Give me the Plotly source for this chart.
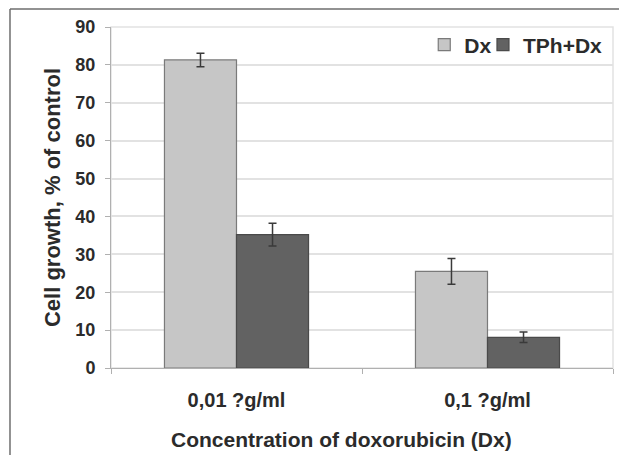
import plotly.graph_objects as go

categories = ["0,01 ?g/ml", "0,1 ?g/ml"]
dx_values = [81.3, 25.5]
dx_errors = [1.8, 3.4]
tph_values = [35.2, 8.1]
tph_errors = [3.0, 1.4]
y_ticks = [0, 10, 20, 30, 40, 50, 60, 70, 80, 90]

FONT = "Liberation Sans, Arial, sans-serif"
TXT = "#2b2b2b"

fig = go.Figure()
fig.add_trace(go.Bar(
    name="Dx", x=categories, y=dx_values, legend="legend",
    marker=dict(color="#c6c6c6", line=dict(color="#7a7a7a", width=1.2)),
    error_y=dict(type="data", array=dx_errors, color="#3a3a3a", thickness=1.5, width=4),
))
fig.add_trace(go.Bar(
    name="TPh+Dx", x=categories, y=tph_values, legend="legend2",
    marker=dict(color="#626262", line=dict(color="#4a4a4a", width=1.2)),
    error_y=dict(type="data", array=tph_errors, color="#3a3a3a", thickness=1.5, width=4),
))

legend_common = dict(orientation="h", yanchor="middle", xanchor="left",
                     font=dict(family=FONT, size=21, color=TXT, weight="bold"),
                     bgcolor="rgba(255,255,255,0)", itemwidth=30)

fig.update_layout(
    width=627, height=455,
    margin=dict(l=103, r=22, t=19, b=95, autoexpand=False),
    paper_bgcolor="white", plot_bgcolor="white",
    barmode="group", bargap=0.426, bargroupgap=0,
    font=dict(family=FONT, size=18, color=TXT, weight="bold"),
    showlegend=True,
    legend=dict(x=0.624, y=0.947, **legend_common),
    legend2=dict(x=0.741, y=0.947, **legend_common),
    xaxis=dict(
        automargin=False,
        showline=True, linecolor="#b0b0b0", linewidth=1, mirror=False,
        ticks="outside", tickson="boundaries", ticklen=5, tickcolor="#b0b0b0",
        ticklabelstandoff=14,
        tickfont=dict(family=FONT, size=20, color=TXT, weight="bold"),
        showgrid=False,
    ),
    yaxis=dict(
        automargin=False,
        range=[0, 90], tickvals=y_ticks,
        showline=True, linecolor="#b0b0b0", linewidth=1,
        ticks="outside", ticklen=5, tickcolor="#b0b0b0",
        ticklabelstandoff=6,
        showgrid=True, gridcolor="#e2e2e2", gridwidth=1.5,
        zeroline=False,
        tickfont=dict(family=FONT, size=18, color=TXT, weight="bold"),
        title=dict(text="Cell growth, % of control", standoff=8,
                   font=dict(family=FONT, size=22, color=TXT, weight="bold")),
    ),
)

# x-axis title (placed slightly left of centre, as in the original)
fig.add_annotation(text="Concentration of doxorubicin (Dx)", xref="paper", yref="paper",
                   x=0.460, y=-0.211, xanchor="center", yanchor="middle", showarrow=False,
                   font=dict(family=FONT, size=21, color=TXT, weight="bold"))

# plot-area border (light frame)
fig.add_shape(type="rect", xref="paper", yref="paper", x0=0, y0=0, x1=1, y1=1,
              line=dict(color="#e2e2e2", width=1.5), fillcolor="rgba(0,0,0,0)", layer="below")
# outer figure frame (left and top edges)
fig.add_shape(type="line", xref="paper", yref="paper", x0=-0.2012, y0=1.0528, x1=1.2, y1=1.0528,
              line=dict(color="#6e6e6e", width=1.5))
fig.add_shape(type="line", xref="paper", yref="paper", x0=-0.2012, y0=1.0528, x1=-0.2012, y1=-0.4,
              line=dict(color="#6e6e6e", width=1.5))

fig.write_html("out.html")
